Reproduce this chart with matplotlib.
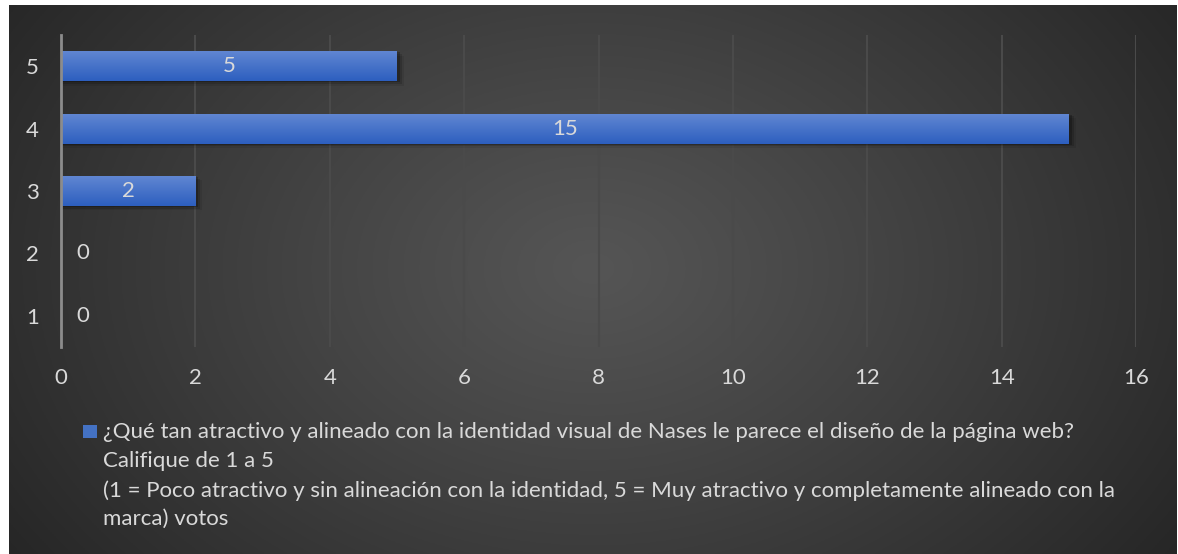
import numpy as np
import matplotlib.pyplot as plt
from matplotlib.patches import Rectangle

# --- DATA ---
ratings = ["1", "2", "3", "4", "5"]
votes = [0, 0, 2, 15, 5]
x_ticks = [0, 2, 4, 6, 8, 10, 12, 14, 16]
legend_label = ("¿Qué tan atractivo y alineado con la identidad visual de Nases le parece el diseño de la página web?\n"
                "Califique de 1 a 5\n"
                "(1 = Poco atractivo y sin alineación con la identidad, 5 = Muy atractivo y completamente alineado con la\n"
                "marca) votos")

W, H = 1178, 554
TEXT_COLOR = "#d9d9d9"
FONT = "Lato"
FS = 16

plt.rcParams["font.family"] = [FONT, "DejaVu Sans"]

fig = plt.figure(figsize=(W / 100, H / 100), dpi=100)
fig.patch.set_facecolor("white")

# --- radial gradient backdrop ---
bg = fig.add_axes([9 / W, 0, (1177 - 9) / W, (H - 5) / H])
bg.set_axis_off()
gx, gy = np.meshgrid(np.linspace(0, 1, 600), np.linspace(0, 1, 300))
r = np.sqrt(((gx - 0.5) / 0.62) ** 2 + ((gy - 0.48) / 0.95) ** 2)
r = np.clip(r, 0, 1)
c0, c1 = 0x55 / 255, 0x25 / 255
shade = c0 + (c1 - c0) * r ** 1.1
bg.imshow(np.dstack([shade, shade, shade]), aspect="auto", extent=[0, 1, 0, 1])
bg.set_xlim(0, 1)
bg.set_ylim(0, 1)

# --- main bar axes ---
ax = fig.add_axes([61 / W, 1 - 347 / H, (1136 - 61) / W, (347 - 35) / H])
ax.patch.set_alpha(0)
ypos = np.arange(len(ratings)) + 1
bar_h = 0.48

# soft drop shadow under each bar
for y, v in zip(ypos, votes):
    if v <= 0:
        continue
    for k, a in enumerate([0.22, 0.14, 0.08]):
        off = 0.02 + k * 0.025
        ax.add_patch(Rectangle((0, y - bar_h / 2 - off), v + 0.04 + k * 0.03, bar_h,
                               facecolor="black", alpha=a, lw=0, zorder=1))

bars = ax.barh(ypos, votes, height=bar_h, color="#4472c4", zorder=2)

# vertical blue gradient inside each bar
grad = np.linspace(0, 1, 64).reshape(-1, 1)
top = np.array([0x60, 0x86, 0xd2]) / 255
bot = np.array([0x2d, 0x5f, 0xbf]) / 255
grad_rgb = top + (bot - top) * grad[..., None]
for b in bars:
    if b.get_width() <= 0:
        continue
    x0, y0 = b.get_x(), b.get_y()
    im = ax.imshow(grad_rgb.reshape(64, 1, 3), aspect="auto", zorder=3,
                   extent=[x0, x0 + b.get_width(), y0, y0 + b.get_height()], origin="upper")
    im.set_clip_path(b)

# value labels
for y, v in zip(ypos, votes):
    if v > 0:
        ax.text(v / 2, y, str(v), ha="center", va="center", color=TEXT_COLOR,
                fontsize=FS, zorder=5)
    else:
        ax.annotate(str(v), (v, y), xytext=(22, 0), textcoords="offset pixels",
                    ha="center", va="center", color=TEXT_COLOR, fontsize=FS, zorder=5)

ax.set_xlim(0, 16)
ax.set_ylim(0.5, 5.5)
ax.set_xticks(x_ticks)
ax.set_yticks(ypos)
ax.set_yticklabels(ratings)
ax.tick_params(axis="both", length=0, colors=TEXT_COLOR, labelsize=FS)
ax.tick_params(axis="x", pad=15)
ax.tick_params(axis="y", pad=16)
ax.grid(axis="x", color="#4a4a4a", lw=1.5, zorder=0)
ax.set_axisbelow(True)
for s in ["top", "right", "bottom"]:
    ax.spines[s].set_visible(False)
ax.spines["left"].set_color("#8c8c8c")
ax.spines["left"].set_linewidth(2)
ax.spines["left"].set_zorder(4)

# legend: blue square and wrapped series name
fig.patches.append(Rectangle((83 / W, 1 - 438 / H), 14 / W, 13 / H, transform=fig.transFigure,
                             facecolor="#4472c4", edgecolor="none"))
fig.text(103 / W, 1 - 422 / H, legend_label, ha="left", va="top", color=TEXT_COLOR,
         fontsize=FS, linespacing=1.55)

fig.savefig("out.png", dpi=100, facecolor=fig.get_facecolor())
